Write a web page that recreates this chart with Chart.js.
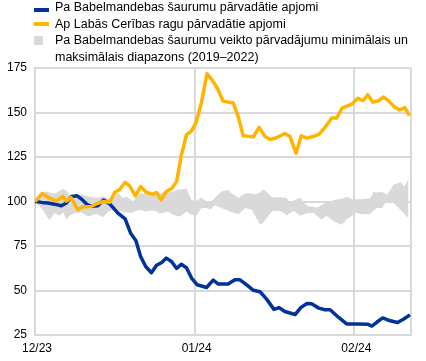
<!DOCTYPE html>
<html>
<head>
<meta charset="utf-8">
<script src="https://cdn.jsdelivr.net/npm/chart.js@4/dist/chart.umd.min.js"></script>
<style>
  html, body { margin: 0; padding: 0; background: #fff; }
  #wrap { position: relative; width: 426px; height: 361px; overflow: hidden; font-family: "Liberation Sans", Arial, sans-serif; }
  #c { position: absolute; left: 0; top: 0; }
  .lg { position: absolute; left: 55px; font-size: 12.5px; line-height: 16.5px; color: #000; white-space: nowrap; }
  .mk { position: absolute; }
</style>
</head>
<body>
<div id="wrap">
  <canvas id="c" width="426" height="361"></canvas>
  <div class="mk" style="left:34px;top:8px;width:15px;height:4px;background:#003299"></div>
  <div class="mk" style="left:34px;top:22px;width:15px;height:4px;background:#FFB400"></div>
  <div class="mk" style="left:34px;top:36px;width:9px;height:9px;background:#D9D9D9"></div>
  <div class="lg" id="lg1" style="top:-1px"></div>
  <div class="lg" id="lg2" style="top:15.5px"></div>
  <div class="lg" id="lg3" style="top:32px"></div>
</div>
<script>
// ---- Data (x = days since 1 Dec 2023) ----
const seriesNames = [
  "Pa Babelmandebas šaurumu pārvadātie apjomi",
  "Ap Labās Cerības ragu pārvadātie apjomi",
  "Pa Babelmandebas šaurumu veikto pārvadājumu minimālais un|maksimālais diapazons (2019–2022)"
];
const xTickDays = [0, 31, 62, 73];
const xTickLabels = ["12/23", "01/24", "02/24", ""];

const redSeaDays = [0,1.3,2.5,3.8,5.1,6.1,7.1,8.2,9.1,10.1,11.0,12.2,13.3,14.6,16.1,17.5,18.6,19.6,20.5,21.5,22.6,23.6,24.6,25.5,26.5,27.5,28.4,29.4,30.4,31.5,33.3,34.6,35.6,37.5,38.8,39.8,41.1,42.4,43.7,45.0,46.4,47.4,48.5,50.5,51.6,52.8,53.7,55.1,56.3,57.3,58.9,60.5,62.5,64.7,65.4,66.4,67.5,68.6,70.4,71.6,72.8];
const redSeaValues = [100,99.5,99.2,98.5,97.6,99.2,102.8,103.2,101.2,98.3,97.3,97.6,100.8,98.4,93.5,90.2,82,78,69.1,63.5,60,64.2,65.7,68.2,66.3,62.4,64.7,62.8,57,53.2,51.7,55.8,53.6,53.6,56,56,53.2,50.1,49.3,45,39.4,40.4,38.2,36.5,40.4,42.7,42.5,40.1,39.2,39.2,35,31.2,31.2,31,30,32.3,34.6,33.3,32,34,36.3];

const capeDays = [0,1.4,2.7,4.1,5.4,6.1,7.0,8.3,9.3,10.9,12.2,13.3,14.5,15.5,16.4,17.5,18.4,19.5,20.5,21.6,22.8,23.6,24.5,25.5,26.5,27.5,28.4,29.4,30.3,31.3,32.3,33.4,34.5,35.5,36.5,38.5,39.5,40.4,42.4,43.5,44.6,45.7,46.9,48.5,49.5,50.7,51.7,52.8,54.0,55.2,56.3,57.6,58.6,59.6,61.5,62.7,63.7,64.6,65.6,66.7,67.7,68.6,69.8,70.8,71.8,72.7];
const capeValues = [100,104.5,102,100.3,102.9,100.2,102.2,95.3,97,97.2,99,100,99.6,105.2,106.6,110.8,108.6,103.1,108.4,105.2,104,105,101,105.6,107.2,111.2,125.8,137.5,139.3,144.5,155.5,171.8,167.8,163.2,156.4,155.3,147.3,137,136.3,141.7,136.7,134.8,135.8,138.2,136.5,127.2,136.9,135.6,136.5,137.8,141.6,146.9,146.9,152.5,154.7,158,156.6,160,155.8,156.6,158.7,156.7,153,151.5,152.8,148.3];

const rangeDays = [0,1.5,2.2,2.8,3.8,4.8,5.5,6.1,6.7,7.7,9.0,10.3,11.9,13.2,14.2,14.8,15.5,16.1,17.1,17.7,18.7,19.0,20.3,21.6,22.0,22.9,23.6,24.2,25.2,25.8,26.8,27.8,28.4,29.4,30.4,31.4,32.3,33.3,34.0,34.6,34.9,36.2,37.5,37.8,39.5,40.8,42.1,42.7,43.7,44.3,44.7,46.0,46.3,47.9,48.9,49.2,50.2,51.5,52.4,53.1,54.1,54.7,55.7,56.3,56.7,57.9,58.3,59.6,60.5,60.9,61.8,62.2,63.5,65.1,65.7,66.4,67.4,68.0,68.3,69.0,69.6,70.9,71.3,71.7,72.5];
const rangeMax = [100,104.7,105.6,105,104.3,106,107,106,104,103,104,103,102,103,102,101,103,105,102,103,101,100,104.2,104.7,105.6,104,105,104.5,105.6,105,105.6,106.6,106.8,107.3,100.8,100.4,102.3,100,99.8,101,102,105.6,106.4,105.5,102,104.7,104.5,104,105,106.6,106,102.5,102.4,102.2,101.9,100.2,100.4,102.2,98.7,97.2,97,96.5,98,99.1,99.5,100.5,101,101.5,102.5,102.2,101,101.2,101.3,101.8,105.3,105,105.5,104.5,104,106.6,109.4,110.8,110,108.4,112.5];
const rangeMin = [100,95.3,92,89.5,93.5,92,94,89.7,92,93.5,93.8,91.6,93.1,91.2,94.4,95,95.7,95,94.4,93.8,93.5,94,95.3,94.4,94.6,94.9,94.5,93.1,94,94.4,92.5,91.6,92,94.4,92.5,92.1,96.3,96.3,95.3,97,98.1,96.3,95,94.4,92.9,96.3,95.3,92,86.9,88,89.7,94.5,94.8,94.4,92.1,93,94.8,92,93,93.5,93.5,92,89.7,91.5,91.8,89.2,88.5,86.9,90,90.7,92.5,93.5,92.9,92.9,95,96.3,96.3,99,100,99.5,99.1,95.5,94.4,93,90.7];

const yMin = 25, yMax = 175, yStep = 25;

// ---- Legend (HTML text) ----
document.getElementById('lg1').textContent = seriesNames[0];
document.getElementById('lg2').textContent = seriesNames[1];
const p3 = seriesNames[2].split('|');
p3.forEach((t, i) => {
  if (i) document.getElementById('lg3').appendChild(document.createElement('br'));
  document.getElementById('lg3').appendChild(document.createTextNode(t));
});

const toPts = (xs, ys) => xs.map((x, i) => ({ x: x, y: ys[i] }));

const FONT = { family: '"Liberation Sans", Arial, sans-serif', size: 12 };
const GRID = '#d9d9d9';

new Chart(document.getElementById('c'), {
  type: 'line',
  data: {
    datasets: [
      { label: seriesNames[0], data: toPts(redSeaDays, redSeaValues), borderColor: '#003299', borderWidth: 3.5, pointRadius: 0, tension: 0, fill: false, order: 1, borderJoinStyle: 'round' },
      { label: seriesNames[1], data: toPts(capeDays, capeValues), borderColor: '#FFB400', borderWidth: 3.5, pointRadius: 0, tension: 0, fill: false, order: 0, borderJoinStyle: 'round' },
      { label: 'max', data: toPts(rangeDays, rangeMax), borderColor: 'rgba(0,0,0,0)', borderWidth: 0, backgroundColor: '#D9D9D9', pointRadius: 0, tension: 0, fill: '+1', order: 2 },
      { label: 'min', data: toPts(rangeDays, rangeMin), borderColor: 'rgba(0,0,0,0)', borderWidth: 0, pointRadius: 0, tension: 0, fill: false, order: 3 }
    ]
  },
  options: {
    responsive: false,
    animation: false,
    devicePixelRatio: 1,
    layout: { padding: { top: 68, right: 15, left: 0, bottom: 0 } },
    plugins: { legend: { display: false }, tooltip: { enabled: false } },
    scales: {
      x: {
        type: 'linear',
        min: 0,
        max: 73,
        afterBuildTicks: (s) => { s.ticks = xTickDays.map(v => ({ value: v })); },
        afterFit: (s) => { s.height = 26; },
        ticks: {
          autoSkip: false,
          maxRotation: 0,
          padding: 6,
          labelOffset: 2,
          color: '#000',
          font: FONT,
          callback: (v) => { const i = xTickDays.indexOf(v); return i >= 0 ? xTickLabels[i] : ''; }
        },
        grid: { color: GRID, lineWidth: 2, drawTicks: false },
        border: { color: GRID, width: 2 }
      },
      y: {
        min: yMin,
        max: yMax,
        afterFit: (s) => { s.width = 35; },
        ticks: { stepSize: yStep, padding: 8, color: '#000', font: FONT },
        grid: { color: GRID, lineWidth: 2, drawTicks: false },
        border: { color: GRID, width: 2 }
      }
    }
  }
});
</script>
</body>
</html>
